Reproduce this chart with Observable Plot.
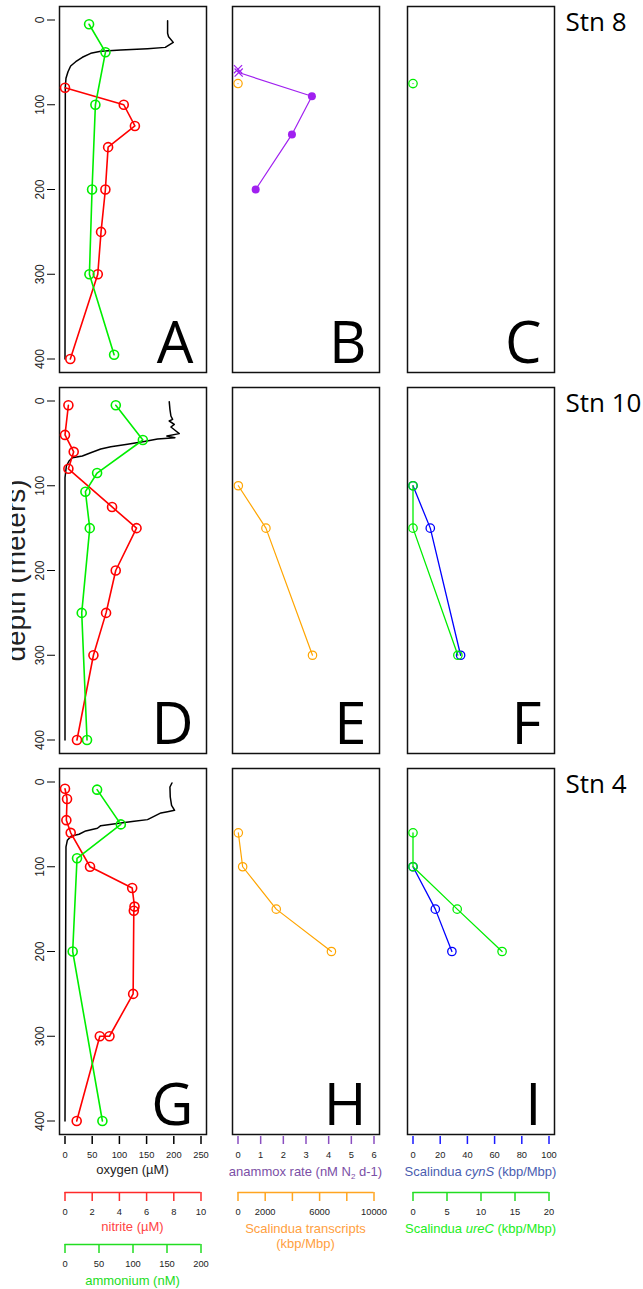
<!DOCTYPE html>
<html><head><meta charset="utf-8">
<script src="https://cdn.jsdelivr.net/npm/d3@7"></script>
<script src="https://cdn.jsdelivr.net/npm/@observablehq/plot@0.6"></script>
<style>
body{margin:0;background:#fff;}
#fig{position:relative;width:643px;height:1289px;overflow:hidden;background:#fff;font-family:"Liberation Sans",Arial,sans-serif;}
#fig svg{position:absolute;}
.ttl{position:absolute;transform:translateX(-50%);white-space:nowrap;font-size:13px;line-height:15px;text-align:center;}
.ttl sub{font-size:8px;vertical-align:-3px;line-height:0;}
</style></head><body><div id="fig"></div>
<script>
// ---------- labels & ticks ----------
const stations = ["Stn 8", "Stn 10", "Stn 4"];
const panelLetters = [["A","B","C"],["D","E","F"],["G","H","I"]];
const depthTicks = [0, 100, 200, 300, 400];
const oxygenTicks = [0, 50, 100, 150, 200, 250];
const nitriteTicks = [0, 2, 4, 6, 8, 10];
const ammoniumTicks = [0, 50, 100, 150, 200];
const anammoxTicks = [0, 1, 2, 3, 4, 5, 6];
const transcriptTicks = [0, 2000, 4000, 6000, 8000, 10000];
const transcriptTickLabels = [0, 2000, 6000, 10000];
const cynSTicks = [0, 20, 40, 60, 80, 100];
const ureCTicks = [0, 5, 10, 15, 20];

// ---------- Stn 8 ----------
const stn8OxygenDepth = [0.8, 15.7, 19.7, 26.4, 32.3, 33.8, 35.4, 37.0, 39.3, 44, 49.2, 54.3, 61, 68.8, 78.7, 400];
const stn8Oxygen      = [188.6, 188.6, 190.4, 199, 184.3, 151.7, 102.6, 65.7, 47.3, 31.9, 19.7, 10.4, 5.5, 1.8, 0.6, 0];
const stn8NitriteDepth = [80, 100, 125, 150, 200, 250, 300, 400];
const stn8Nitrite      = [0, 4.32, 5.14, 3.17, 2.97, 2.65, 2.41, 0.39];
const stn8AmmoniumDepth = [5, 38, 100, 200, 300, 395];
const stn8Ammonium      = [35.4, 59.5, 44.7, 39.8, 35.9, 72.2];
const stn8AnammoxDepth = [58, 62, 90, 135, 200];
const stn8Anammox      = [0, 0.03, 3.26, 2.38, 0.78];
const stn8AnammoxUndetected = [true, true, false, false, false];
const stn8TranscriptDepth = [75];
const stn8Transcript      = [0];
const stn8CynSDepth = [];
const stn8CynS      = [];
const stn8UreCDepth = [75];
const stn8UreC      = [0];

// ---------- Stn 10 ----------
const stn10OxygenDepth = [0.8, 9.8, 17.7, 21.6, 23.6, 27.5, 30.7, 35.4, 38.5, 41.3, 43.3, 44.9, 47.9, 51.1, 53.9, 56.6, 61, 64.9, 66.9, 70.8, 76.7, 90.5, 400];
const stn10Oxygen      = [191.6, 192.9, 194.7, 197.8, 191.6, 200.9, 194.7, 203.9, 210, 187.3, 202, 170.1, 145.6, 114.9, 84.2, 65.7, 47.3, 31.9, 13.5, 7.4, 2.5, 0, 0];
const stn10NitriteDepth = [5, 40, 60, 80, 125, 150, 200, 250, 300, 400];
const stn10Nitrite      = [0.25, 0, 0.64, 0.25, 3.46, 5.26, 3.73, 3.02, 2.09, 0.88];
const stn10AmmoniumDepth = [5, 46, 85, 107, 150, 250, 400];
const stn10Ammonium      = [74.7, 114.5, 47.2, 30, 36.4, 24.6, 32.4];
const stn10AnammoxDepth = [];
const stn10Anammox      = [];
const stn10AnammoxUndetected = [];
const stn10TranscriptDepth = [100, 150, 300];
const stn10Transcript      = [24, 2054, 5477];
const stn10CynSDepth = [100, 150, 300];
const stn10CynS      = [0, 12.7, 35];
const stn10UreCDepth = [100, 150, 300];
const stn10UreC      = [0, 0, 6.6];

// ---------- Stn 4 ----------
const stn4OxygenDepth = [1.2, 5.9, 17.7, 27.5, 33.4, 35, 36.5, 44.4, 46.4, 48.3, 51.5, 54.6, 57.7, 61.7, 63.6, 68.8, 76.6, 400];
const stn4Oxygen      = [196.6, 192.9, 193.5, 195.9, 201.5, 188.6, 176.3, 151.7, 127.1, 102.6, 65.7, 59.6, 38.1, 25.8, 11.7, 4.3, 1.8, 0];
const stn4NitriteDepth = [8, 20, 45, 60, 100, 125, 147, 152, 250, 300, 300, 400];
const stn4Nitrite      = [0, 0.15, 0.1, 0.42, 1.84, 4.94, 5.11, 5.06, 5.01, 3.27, 2.56, 0.86];
const stn4AmmoniumDepth = [9, 50, 90, 200, 400];
const stn4Ammonium      = [47.2, 82.1, 17.7, 11.3, 55];
const stn4AnammoxDepth = [];
const stn4Anammox      = [];
const stn4AnammoxUndetected = [];
const stn4TranscriptDepth = [60, 100, 150, 200];
const stn4Transcript      = [24, 342, 2812, 6870];
const stn4CynSDepth = [100, 150, 200];
const stn4CynS      = [0, 16.4, 28.6];
const stn4UreCDepth = [60, 100, 150, 200];
const stn4UreC      = [0, 0, 6.5, 13.1];

// ---------- tables built from arrays ----------
const pts = (depths, values, flags) => depths.map((d, i) => ({depth: d, value: values[i], undetected: flags ? flags[i] : false}));
const rows = [
  {oxygen: pts(stn8OxygenDepth, stn8Oxygen), nitrite: pts(stn8NitriteDepth, stn8Nitrite), ammonium: pts(stn8AmmoniumDepth, stn8Ammonium),
   anammox: pts(stn8AnammoxDepth, stn8Anammox, stn8AnammoxUndetected), transcript: pts(stn8TranscriptDepth, stn8Transcript),
   cynS: pts(stn8CynSDepth, stn8CynS), ureC: pts(stn8UreCDepth, stn8UreC)},
  {oxygen: pts(stn10OxygenDepth, stn10Oxygen), nitrite: pts(stn10NitriteDepth, stn10Nitrite), ammonium: pts(stn10AmmoniumDepth, stn10Ammonium),
   anammox: pts(stn10AnammoxDepth, stn10Anammox, stn10AnammoxUndetected), transcript: pts(stn10TranscriptDepth, stn10Transcript),
   cynS: pts(stn10CynSDepth, stn10CynS), ureC: pts(stn10UreCDepth, stn10UreC)},
  {oxygen: pts(stn4OxygenDepth, stn4Oxygen), nitrite: pts(stn4NitriteDepth, stn4Nitrite), ammonium: pts(stn4AmmoniumDepth, stn4Ammonium),
   anammox: pts(stn4AnammoxDepth, stn4Anammox, stn4AnammoxUndetected), transcript: pts(stn4TranscriptDepth, stn4Transcript),
   cynS: pts(stn4CynSDepth, stn4CynS), ureC: pts(stn4UreCDepth, stn4UreC)}
];

// ---------- layout & style ----------
const colLeft = [59, 232, 407], colW = 147;
const rowTop = [6, 387, 768], rowH = 366;
const xInset = 5.5, yInset = 13.5;
const C = {oxygen: "#000000", nitrite: "#ff0000", ammonium: "#00ee00", anammox: "#a020f0", transcript: "#ffa500", cynS: "#0000ff", ureC: "#00ee00"};
const svgStyle = "background:transparent;font-family:'Liberation Sans',Arial,sans-serif;font-size:9.3px;color:#222;";
const fig = document.getElementById("fig");

function layer(r, c, domain, marks, o = {}) {
  const ml = c === 0 ? 47 : 8, mr = c === 2 ? 89 : 8, mt = 6, mb = r === 2 ? 32 : 8;
  const all = [...marks];
  if (o.yAxis) all.push(Plot.axisY({ticks: depthTicks, tickSize: 8, tickPadding: 4, dx: -4, tickRotate: -90,
    textAnchor: "middle", lineAnchor: "bottom", fontSize: 12, stroke: "#000", fill: "#222", label: null, tickFormat: d => String(d)}));
  if (o.xAxis) all.push(Plot.axisX({anchor: "bottom", ticks: o.xAxis.ticks, tickSize: 8, dy: 2, tickPadding: 6.5,
    stroke: o.xAxis.color, strokeWidth: 1.5, fill: "#222", label: null, tickFormat: d => String(d)}));
  const svg = Plot.plot({
    width: colW + ml + mr, height: rowH + mt + mb,
    marginLeft: ml, marginRight: mr, marginTop: mt, marginBottom: mb,
    style: svgStyle,
    x: o.xAxis ? {domain, inset: xInset} : {domain, inset: xInset, axis: null},
    y: o.yAxis ? {domain: [0, 400], reverse: true, inset: yInset} : {domain: [0, 400], reverse: true, inset: yInset, axis: null},
    marks: all
  });
  svg.style.left = (colLeft[c] - ml) + "px";
  svg.style.top = (rowTop[r] - mt) + "px";
  fig.appendChild(svg);
}

function series(data, color, sw, r, dots = true) {
  const m = [Plot.line(data, {x: "value", y: "depth", stroke: color, strokeWidth: sw})];
  if (dots) m.push(Plot.dot(data, {x: "value", y: "depth", r, stroke: color, strokeWidth: sw, fill: "none"}));
  return m;
}

function letterMark(t) {
  return Plot.text([t], {frameAnchor: "bottom-right", text: d => d, dx: -13, dy: -10, textAnchor: "end", lineAnchor: "bottom",
    fontSize: 58, fontFamily: "'Open Sans','Liberation Sans',sans-serif", fill: "#000"});
}

rows.forEach((d, r) => {
  const last = r === 2;
  // column 1: oxygen / nitrite / ammonium
  const m0 = [Plot.frame({stroke: "#111", strokeWidth: 1.5}), ...series(d.oxygen, C.oxygen, 1.5, 0, false), letterMark(panelLetters[r][0])];
  if (r === 1) m0.push(Plot.text(["depth (meters)"], {frameAnchor: "left", text: v => v, rotate: -90, dx: -35,
    textAnchor: "middle", lineAnchor: "bottom", fontSize: 28, fill: "#222"}));
  layer(r, 0, [0, 250], m0, {yAxis: true, xAxis: last ? {ticks: oxygenTicks, color: "#000"} : null});
  layer(r, 0, [0, 10], series(d.nitrite, C.nitrite, 1.6, 4.5));
  layer(r, 0, [0, 200], series(d.ammonium, C.ammonium, 1.6, 4.5));

  // column 2: anammox / transcripts
  const m1 = [Plot.frame({stroke: "#111", strokeWidth: 1.5}),
    Plot.line(d.anammox, {x: "value", y: "depth", stroke: C.anammox, strokeWidth: 1.2}),
    Plot.dot(d.anammox.filter(p => !p.undetected), {x: "value", y: "depth", r: 4, fill: C.anammox}),
    Plot.dot(d.anammox.filter(p => p.undetected), {x: "value", y: "depth", r: 3.8, symbol: "times", stroke: C.anammox, strokeWidth: 1.2}),
    letterMark(panelLetters[r][1])];
  layer(r, 1, [0, 6], m1, {xAxis: last ? {ticks: anammoxTicks, color: "#8a4fc0"} : null});
  layer(r, 1, [0, 10000], series(d.transcript, C.transcript, 1.2, 4.2));

  // column 3: cynS / ureC
  const m2 = [Plot.frame({stroke: "#111", strokeWidth: 1.5}), ...series(d.cynS, C.cynS, 1.3, 4.2), letterMark(panelLetters[r][2]),
    Plot.text([stations[r]], {frameAnchor: "top-right", text: v => v, dx: 11, dy: 6, textAnchor: "start", lineAnchor: "top",
      fontSize: 26, fontFamily: "'Open Sans','Liberation Sans',sans-serif", fill: "#000"})];
  layer(r, 2, [0, 100], m2, {xAxis: last ? {ticks: cynSTicks, color: "#1a1aff"} : null});
  layer(r, 2, [0, 20], series(d.ureC, C.ureC, 1.3, 4.2));
});

// ---------- secondary axes below the panels ----------
function secAxis(c, lineY, domain, ticks, color, fmt) {
  const ml = 10 + xInset, mr = 10 + xInset, mt = 4, mb = 34, ph = 2;
  const svg = Plot.plot({
    width: colW - 2 * xInset + ml + mr, height: mt + ph + mb,
    marginLeft: ml, marginRight: mr, marginTop: mt, marginBottom: mb,
    style: svgStyle,
    x: {domain},
    y: {domain: [0, 1], axis: null},
    marks: [
      Plot.ruleY([0], {stroke: color, strokeWidth: 1.5}),
      Plot.axisX({anchor: "bottom", ticks, tickSize: 9, tickPadding: 6.5, stroke: color, strokeWidth: 1.5, fill: "#222", label: null, tickFormat: fmt})
    ]
  });
  svg.style.left = (colLeft[c] - 10) + "px";
  svg.style.top = (lineY - mt - ph) + "px";
  fig.appendChild(svg);
}
const plain = d => String(d);
secAxis(0, 1192, [0, 10], nitriteTicks, "#ff2a2a", plain);
secAxis(0, 1243.5, [0, 200], ammoniumTicks, "#22dd22", plain);
secAxis(1, 1192, [0, 10000], transcriptTicks, "#ffa520", d => transcriptTickLabels.includes(d) ? String(d) : "");
secAxis(2, 1192, [0, 20], ureCTicks, "#22dd22", plain);

// ---------- axis titles ----------
const titles = [
  {html: "oxygen (µM)", x: 132.5, y: 1170, color: "#222"},
  {html: "anammox rate (nM N<sub>2</sub> d-1)", x: 305.5, y: 1171.5, color: "#7b4fa6"},
  {html: "Scalindua <i>cynS</i> (kbp/Mbp)", x: 480.5, y: 1171.5, color: "#4a5db0"},
  {html: "nitrite (µM)", x: 132.5, y: 1226.5, color: "#ff4444"},
  {html: "Scalindua transcripts<br>(kbp/Mbp)", x: 305.5, y: 1236.5, color: "#ffa040"},
  {html: "Scalindua <i>ureC</i> (kbp/Mbp)", x: 480.5, y: 1229, color: "#22ee22"},
  {html: "ammonium (nM)", x: 132.5, y: 1281, color: "#22dd22"}
];
titles.forEach(t => {
  const el = document.createElement("div");
  el.className = "ttl";
  el.innerHTML = t.html;
  el.style.left = t.x + "px";
  el.style.color = t.color;
  fig.appendChild(el);
  el.style.top = (t.y - el.offsetHeight / 2 - 0.5) + "px";
});
</script></body></html>
